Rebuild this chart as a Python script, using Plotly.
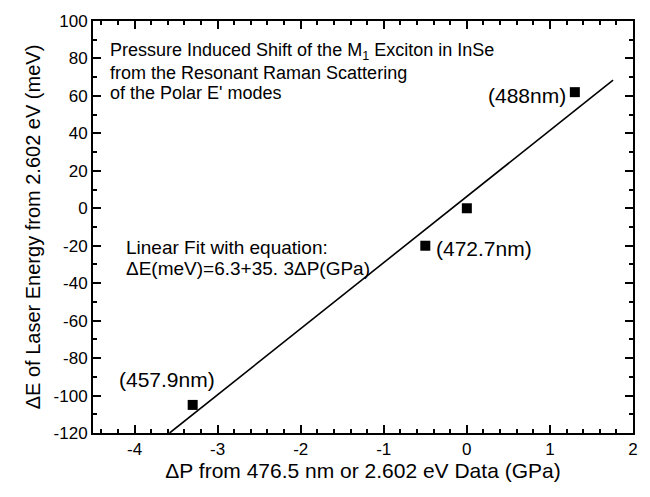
import plotly.graph_objects as go

# Data
dp_gpa = [-3.3, -0.5, 0.0, 1.3]
de_mev = [-105, -20, 0, 62]
labels = ["(457.9nm)", "(472.7nm)", "", "(488nm)"]
fit_intercept = 6.3
fit_slope = 35.3
fit_x_end = 1.76
y_min, y_max = -120, 100
x_min, x_max = -4.5, 2
x_tickvals = [-4, -3, -2, -1, 0, 1, 2]
x_ticktext = ["-4", "-3", "-2", "-1", "0", "1", "2"]
y_tickvals = [100, 80, 60, 40, 20, 0, -20, -40, -60, -80, -100, -120]
y_ticktext = ["100", "80", "60", "40", "20", "0", "-20", "-40", "-60", "-80", "-100", "-120"]
title_lines = ["Pressure Induced Shift of the M<sub>1</sub> Exciton in InSe",
               "from the Resonant Raman Scattering",
               "of the Polar E' modes"]
fit_lines = ["Linear Fit with equation:", "ΔE(meV)=6.3+35. 3ΔP(GPa)"]

fit_x_start = (y_min - fit_intercept) / fit_slope
fit_x = [fit_x_start, fit_x_end]
fit_y = [fit_intercept + fit_slope * v for v in fit_x]

FONT = "Liberation Sans, Arial, sans-serif"

fig = go.Figure()
fig.add_trace(go.Scatter(x=fit_x, y=fit_y, mode="lines",
                         line=dict(color="black", width=1.6), showlegend=False))
fig.add_trace(go.Scatter(x=dp_gpa, y=de_mev, mode="markers",
                         marker=dict(symbol="square", size=10, color="black"),
                         showlegend=False))

LBL = dict(size=21, family=FONT, color="black")
fig.add_annotation(x=dp_gpa[3], y=de_mev[3], text=labels[3], showarrow=False,
                   xanchor="right", yanchor="middle", xshift=-7, yshift=-3, font=LBL)
fig.add_annotation(x=dp_gpa[1], y=de_mev[1], text=labels[1], showarrow=False,
                   xanchor="left", yanchor="middle", xshift=9, yshift=-3, font=LBL)
fig.add_annotation(x=dp_gpa[0], y=de_mev[0], text=labels[0], showarrow=False,
                   xanchor="center", yanchor="bottom", xshift=-26, yshift=12, font=LBL)

TXT = dict(size=18, family=FONT, color="black")
for txt, yv in zip(title_lines, [83.5, 72.3, 61.8]):
    fig.add_annotation(xref="paper", yref="y", x=0.027, y=yv, text=txt,
                       showarrow=False, xanchor="left", yanchor="middle", font=TXT)
TXT2 = dict(size=19, family=FONT, color="black")
for txt, yv in zip(fit_lines, [-21, -32]):
    fig.add_annotation(xref="paper", yref="y", x=0.058, y=yv, text=txt,
                       showarrow=False, xanchor="left", yanchor="middle", font=TXT2)

axis_common = dict(showline=True, linecolor="black", linewidth=2, mirror="allticks",
                   ticks="inside", ticklen=8, tickwidth=1.5, tickcolor="black",
                   showgrid=False, zeroline=False, tickmode="array",
                   tickfont=dict(size=17, family=FONT, color="black"))

fig.update_xaxes(range=[x_min, x_max], tickvals=x_tickvals, ticktext=x_ticktext,
                 minor=dict(dtick=0.2, tick0=0, ticks="inside", ticklen=4,
                            tickwidth=1.5, tickcolor="black", showgrid=False),
                 title=dict(text="ΔP from 476.5 nm or 2.602 eV Data (GPa)",
                            font=dict(size=21, family=FONT, color="black"), standoff=4),
                 **axis_common)
fig.update_yaxes(range=[y_min, y_max], tickvals=y_tickvals, ticktext=y_ticktext,
                 minor=dict(dtick=10, tick0=0, ticks="inside", ticklen=4,
                            tickwidth=1.5, tickcolor="black", showgrid=False),
                 title=dict(text="ΔE of Laser Energy from 2.602 eV (meV)",
                            font=dict(size=20, family=FONT, color="black"), standoff=8),
                 **axis_common)

fig.update_layout(width=650, height=497, margin=dict(l=93, r=13, t=14, b=64),
                  plot_bgcolor="white", paper_bgcolor="white",
                  font=dict(family=FONT, color="black"))

fig.write_html("out.html")
